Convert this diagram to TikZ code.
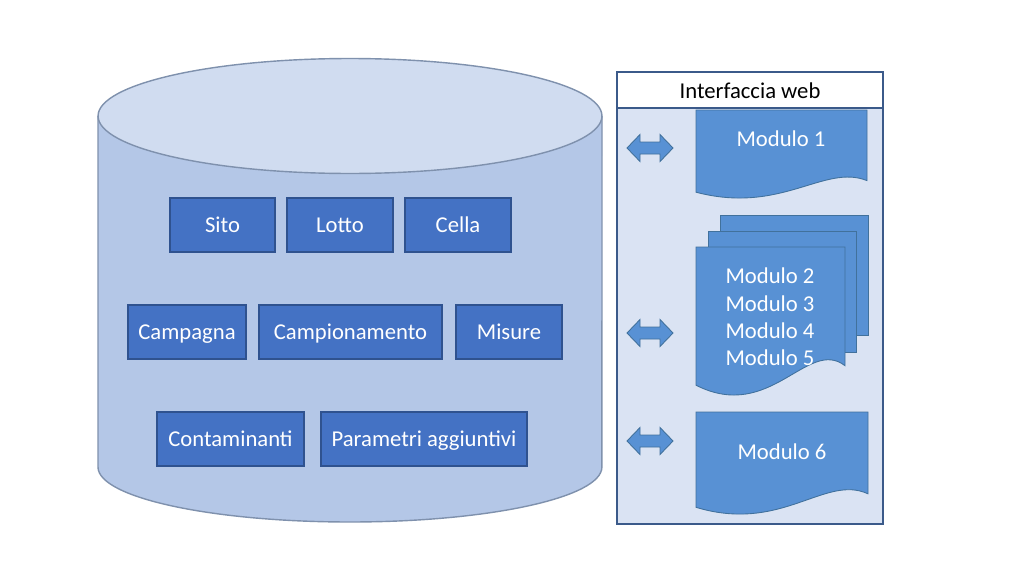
\documentclass[tikz,border=0pt]{standalone}
\usepackage{fontspec}
\setmainfont{Carlito}
\definecolor{cylbody}{HTML}{B4C7E7}
\definecolor{cyltop}{HTML}{D0DCF0}
\definecolor{cylline}{HTML}{7F91AD}
\definecolor{boxfill}{HTML}{4472C4}
\definecolor{boxline}{HTML}{2F528F}
\definecolor{docfill}{RGB}{88,145,212}
\definecolor{docline}{HTML}{41719C}
\definecolor{panelfill}{HTML}{DAE3F3}
\definecolor{panelline}{HTML}{3B5A8A}
\tikzset{
  lbl/.style={font=\fontsize{12.9}{15.6}\selectfont},
  dbbox/.style={lbl, draw=boxline, fill=boxfill, text=white, line width=0.6pt, minimum height=1.08cm, inner sep=0pt, text height=1.02em, text depth=0.18em},
  docshape/.style={fill=docfill, draw=docline, line width=0.5pt},
  doctext/.style={lbl, text=white, align=center},
  biarrow/.style={fill=docfill, draw=docline, line width=0.5pt},
}
\begin{document}
\begin{tikzpicture}[x=0.02cm,y=-0.02cm]
\useasboundingbox (0,0) rectangle (1023,561);
\fill[white] (0,0) rectangle (1023,561);
% cylinder
\filldraw[fill=cylbody, draw=cylline, line width=0.8pt]
  (98,116) -- (98,467) arc[start angle=180, end angle=360, x radius=5.04cm, y radius=1.1cm] -- (602,116);
\filldraw[fill=cyltop, draw=cylline, line width=0.8pt] (350,116) ellipse[x radius=5.04cm, y radius=1.15cm];
% boxes
\node[dbbox, minimum width=2.1cm]  (sito)  at (222.5,225) {Sito};
\node[dbbox, minimum width=2.12cm] (lotto) at (340,225) {Lotto};
\node[dbbox, minimum width=2.12cm] (cella) at (458,225) {Cella};
\node[dbbox, minimum width=2.36cm] (campagna) at (187,332) {Campagna};
\node[dbbox, minimum width=3.66cm] (campion) at (350.5,332) {Campionamento};
\node[dbbox, minimum width=2.12cm] (misure) at (509,332) {Misure};
\node[dbbox, minimum width=2.94cm] (contam) at (230.5,439) {Contaminanti};
\node[dbbox, minimum width=4.12cm] (param) at (424,439) {Parametri aggiuntivi};
% panel
\filldraw[fill=panelfill, draw=panelline, line width=1.1pt] (617,72) rectangle (883,524);
\filldraw[fill=white, draw=panelline, line width=1.1pt] (617,72) rectangle (883,108);
\node[lbl, text=black] (title) at (750,91) {Interfaccia web};
% Modulo 1
\path[docshape] (696,110) -- (867,110) -- (867,180.6) .. controls (824.25,163.5) and (781.5,214.7) .. (696,192.2) -- cycle;
\node[doctext] (m1) at (781,139) {Modulo 1};
% multi document
\path[docshape] (720,215) rectangle (868,335);
\path[docshape] (708,231) rectangle (856,352);
\path[docshape] (696,247) -- (845,247) -- (845,365.7) .. controls (807.75,337) and (770.5,423.1) .. (696,385.2) -- cycle;
\node[doctext] (m2) at (770,317) {Modulo 2\\Modulo 3\\Modulo 4\\Modulo 5};
% Modulo 6
\path[docshape] (696,412) -- (868,412) -- (868,493.8) .. controls (825,474) and (782,533.4) .. (696,507.3) -- cycle;
\node[doctext] (m6) at (782,452) {Modulo 6};
% arrows
\foreach \yy in {148,333,441}{
  \path[biarrow] (627,\yy) -- (640,\yy-13.5) -- (640,\yy-6) -- (660,\yy-6) -- (660,\yy-13.5) -- (673,\yy)
    -- (660,\yy+13.5) -- (660,\yy+6) -- (640,\yy+6) -- (640,\yy+13.5) -- cycle;
}
\end{tikzpicture}
\end{document}
